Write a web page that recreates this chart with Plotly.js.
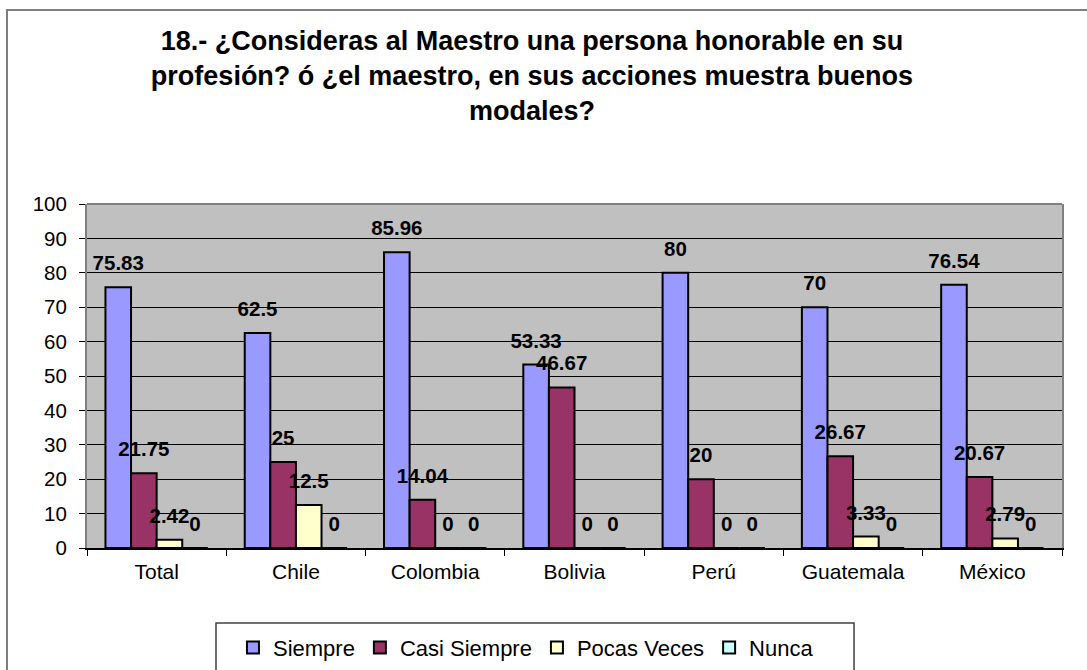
<!DOCTYPE html>
<html>
<head>
<meta charset="utf-8">
<script src="https://cdn.plot.ly/plotly-3.0.1.min.js"></script>
<style>html,body{margin:0;padding:0;background:#fff;}#chart{width:1087px;height:670px;}</style>
</head>
<body>
<div id="chart"></div>
<script>
const categories = ["Total", "Chile", "Colombia", "Bolivia", "Perú", "Guatemala", "México"];
const seriesNames = ["Siempre", "Casi Siempre", "Pocas Veces", "Nunca"];
const siempre = [75.83, 62.5, 85.96, 53.33, 80, 70, 76.54];
const casiSiempre = [21.75, 25, 14.04, 46.67, 20, 26.67, 20.67];
const pocasVeces = [2.42, 12.5, 0, 0, 0, 3.33, 2.79];
const nunca = [0, 0, 0, 0, 0, 0, 0];
const yTicks = [0, 10, 20, 30, 40, 50, 60, 70, 80, 90, 100];
const titleText = "18.- ¿Consideras al Maestro una persona honorable en su<br>profesión? ó ¿el maestro, en sus acciones muestra buenos<br>modales?";

const colors = ["#9999FF", "#993366", "#FFFFCC", "#CCFFFF"];
const FONT = 'Arial, "Liberation Sans", sans-serif';
const allSeries = [siempre, casiSiempre, pocasVeces, nunca];

const barTraces = allSeries.map((vals, i) => ({
  type: "bar",
  name: seriesNames[i],
  x: categories,
  y: vals,
  marker: { color: colors[i], line: { color: "#000", width: 2 } },
  hoverinfo: "skip"
}));

const labelTraces = allSeries.map((vals, i) => ({
  type: "scatter",
  mode: "markers+text",
  orientation: "v",
  x: categories,
  y: vals,
  text: vals.map(v => String(v)),
  textposition: "top center",
  textfont: { family: FONT, size: 20.5, color: "#000", weight: "bold" },
  marker: { size: 17.4, color: "rgba(0,0,0,0)" },
  cliponaxis: false,
  showlegend: false,
  hoverinfo: "skip"
}));

const layout = {
  width: 1087,
  height: 670,
  margin: { l: 87, r: 25, t: 204, b: 122, pad: 0, autoexpand: false },
  paper_bgcolor: "#ffffff",
  plot_bgcolor: "#C0C0C0",
  barmode: "group",
  bargap: 0.265,
  bargroupgap: 0,
  scattermode: "group",
  scattergap: 0.265,
  font: { family: FONT, color: "#000" },
  title: {
    text: titleText,
    font: { family: FONT, size: 27, weight: "bold", color: "#000" },
    x: 0.4894, xanchor: "center", xref: "container",
    y: 0.926, yanchor: "middle", yref: "container"
  },
  xaxis: {
    type: "category",
    showline: true, linecolor: "#000", linewidth: 1.5, mirror: false,
    ticks: "outside", tickson: "boundaries", ticklen: 6, tickcolor: "#000", tickwidth: 1,
    tickfont: { family: FONT, size: 21, color: "#000" },
    ticklabelstandoff: 4,
    showgrid: false, zeroline: false, fixedrange: true
  },
  yaxis: {
    range: [0, 100],
    tickvals: yTicks,
    ticktext: yTicks.map(String),
    showline: true, linecolor: "#808080", linewidth: 2, mirror: true,
    ticks: "outside", ticklen: 6, tickcolor: "#000", tickwidth: 1,
    tickfont: { family: FONT, size: 20.5, color: "#000" },
    ticklabelstandoff: 8,
    showgrid: true, gridcolor: "#000", gridwidth: 1,
    zeroline: false, fixedrange: true
  },
  showlegend: true,
  legend: {
    orientation: "h",
    x: 0.1497, xanchor: "left",
    y: -0.229, yanchor: "top",
    bgcolor: "rgba(0,0,0,0)",
    borderwidth: 0,
    font: { family: FONT, size: 22, color: "#000" },
    traceorder: "normal"
  },
  shapes: [
    { type: "rect", xref: "paper", yref: "paper", x0: -0.08205, x1: 1.04, y0: -0.40, y1: 1.564,
      line: { color: "#7f7f7f", width: 2 }, fillcolor: "rgba(0,0,0,0)", layer: "below" },
    { type: "line", xref: "paper", yref: "paper", x0: 0, x1: 1, y0: 1, y1: 1,
      line: { color: "#808080", width: 2 } },
    { type: "rect", xref: "paper", yref: "paper", x0: 0.1323, x1: 0.7867, y0: -0.413, y1: -0.218,
      line: { color: "#404040", width: 1.5 }, fillcolor: "rgba(0,0,0,0)" }
  ]
};

Plotly.newPlot("chart", barTraces.concat(labelTraces), layout, { displayModeBar: false, staticPlot: true });
</script>
</body>
</html>
